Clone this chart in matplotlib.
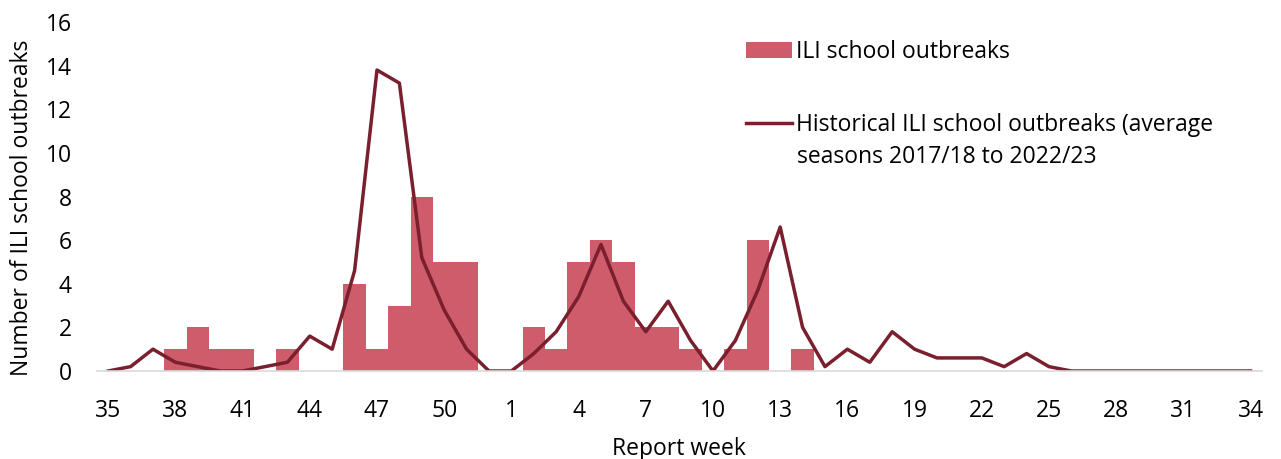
import matplotlib.pyplot as plt
import numpy as np

# report weeks, season week 35 -> week 34
weeks = list(range(35, 53)) + list(range(1, 35))

# ILI school outbreaks this season
outbreaks = [0, 0, 0, 1, 2, 1, 1, 0, 1, 0, 0, 4, 1, 3, 8, 5, 5, 0,
             0, 2, 1, 5, 6, 5, 2, 2, 1, 0, 1, 6, 0, 1, 0, 0, 0, 0,
             0, 0, 0, 0, 0, 0, 0, 0, 0, 0, 0, 0, 0, 0, 0, 0]

# historical average 2017/18 to 2022/23
historical = [0, 0.2, 1.0, 0.4, 0.2, 0, 0, 0.2, 0.4, 1.6, 1.0, 4.6, 13.8, 13.2, 5.2, 2.8, 1.0, 0,
              0, 0.8, 1.8, 3.4, 5.8, 3.2, 1.8, 3.2, 1.4, 0, 1.4, 3.7, 6.6, 2.0, 0.2, 1.0, 0.4, 1.8,
              1.0, 0.6, 0.6, 0.6, 0.2, 0.8, 0.2, 0, 0, 0, 0, 0, 0, 0, 0, 0]

plt.rcParams['font.family'] = ['Open Sans', 'DejaVu Sans']
fs = 16.5
plt.rcParams['font.size'] = fs

fig = plt.figure(figsize=(12.81, 4.59), dpi=100)
ax = fig.add_axes([0.0757, 0.1917, 0.9093, 0.7603])

x = np.arange(len(weeks))
bars = ax.bar(x, outbreaks, width=1.0, color='#CE5C6B', label='ILI school outbreaks')
line, = ax.plot(x, historical, color='#7A1F2D', linewidth=2.5,
                label='Historical ILI school outbreaks (average')

ax.set_xlim(-0.5, 51.5)
ax.set_ylim(0, 16)
ax.set_yticks(range(0, 17, 2))
ax.set_xticks(x[::3])
ax.set_xticklabels([str(w) for w in weeks[::3]])
ax.tick_params(length=0, labelsize=fs)
ax.tick_params(axis='y', pad=18)
ax.tick_params(axis='x', pad=20)

for s in ['top', 'right', 'left']:
    ax.spines[s].set_visible(False)
ax.spines['bottom'].set_color('#D9D9D9')
ax.spines['bottom'].set_linewidth(1.2)

ax.set_xlabel('Report week', fontsize=fs)
ax.set_ylabel('Number of ILI school outbreaks', fontsize=fs)
ax.yaxis.set_label_coords(-0.054, 0.467)
ax.xaxis.set_label_coords(0.5, -0.188)

ax.legend(handles=[bars, line], loc='upper left',
          bbox_to_anchor=(746 / 1281, 1 - 40 / 459),
          bbox_transform=fig.transFigure, frameon=False, fontsize=fs,
          handlelength=2.0, handletextpad=0.2, labelspacing=2.13,
          borderpad=0, borderaxespad=0)
fig.text(797 / 1281, 1 - 157 / 459, 'seasons 2017/18 to 2022/23',
         fontsize=fs, ha='left', va='center')

fig.savefig('out.png', dpi=100)
